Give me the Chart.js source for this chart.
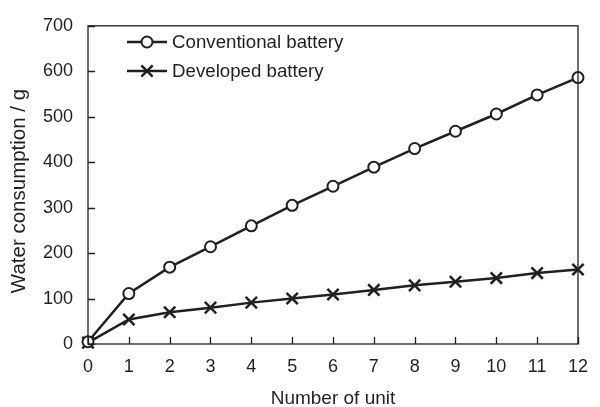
<!DOCTYPE html>
<html>
<head>
<meta charset="utf-8">
<script src="https://cdn.jsdelivr.net/npm/chart.js@4.4.1/dist/chart.umd.min.js"></script>
<style>
  html, body { margin: 0; padding: 0; background: #fff; }
  #wrap { width: 600px; height: 407px; }
</style>
</head>
<body>
<div id="wrap"><canvas id="waterChart" width="600" height="407"></canvas></div>
<script>
var units = [0, 1, 2, 3, 4, 5, 6, 7, 8, 9, 10, 11, 12];
var conventional = [5, 111, 169, 214, 260, 305, 347, 389, 430, 468, 506, 548, 586];
var developed = [3, 54, 70, 80, 91, 100, 109, 119, 129, 137, 145, 156, 164];
var seriesNames = ['Conventional battery', 'Developed battery'];
var xTitle = 'Number of unit';
var yTitle = 'Water consumption / g';

var ink = '#231f20';
var font = 'Liberation Sans, Arial, sans-serif';

function toPoints(vals) {
    return units.map(function(u, i) { return { x: u, y: vals[i] }; });
}

// box, inward ticks, axis titles and the legend
var decorations = {
    id: 'decorations',
    afterDraw: function(chart) {
        var ctx = chart.ctx, a = chart.chartArea;
        var xs = chart.scales.x, ys = chart.scales.y;
        ctx.save();
        ctx.strokeStyle = ink;
        ctx.lineWidth = 1.3;
        ctx.strokeRect(a.left, a.top, a.right - a.left, a.bottom - a.top);
        ctx.beginPath();
        xs.ticks.forEach(function(t) {
            var px = Math.round(xs.getPixelForValue(t.value)) + 0.5;
            ctx.moveTo(px, a.bottom);
            ctx.lineTo(px, a.bottom - 7);
        });
        ys.ticks.forEach(function(t) {
            var py = Math.round(ys.getPixelForValue(t.value)) + 0.5;
            ctx.moveTo(a.left, py);
            ctx.lineTo(a.left + 7, py);
        });
        ctx.stroke();

        ctx.fillStyle = ink;
        ctx.font = '19px ' + font;
        ctx.textAlign = 'center';
        ctx.textBaseline = 'middle';
        ctx.fillText(xTitle, (a.left + a.right) / 2, 399);
        ctx.save();
        ctx.translate(19, 191);
        ctx.rotate(-Math.PI / 2);
        ctx.font = '20.5px ' + font;
        ctx.fillText(yTitle, 0, 0);
        ctx.restore();

        // legend
        var rows = [42, 71];
        chart.data.datasets.forEach(function(ds, i) {
            var y = rows[i];
            ctx.lineWidth = 2.5;
            ctx.beginPath();
            ctx.moveTo(127, y);
            ctx.lineTo(167, y);
            ctx.stroke();
            ctx.lineWidth = ds.pointBorderWidth;
            ctx.fillStyle = '#fff';
            Chart.helpers.drawPoint(ctx, {
                pointStyle: ds.pointStyle,
                radius: ds.pointRadius,
                borderWidth: ds.pointBorderWidth
            }, 147, y);
            ctx.fillStyle = ink;
            ctx.font = '18.7px ' + font;
            ctx.textAlign = 'left';
            ctx.fillText(ds.label, 172, y + 1);
        });
        ctx.restore();
    }
};

var ctx = document.getElementById('waterChart').getContext('2d');
var waterChart = new Chart(ctx, {
    type: 'line',
    data: {
        datasets: [{
            label: seriesNames[0],
            data: toPoints(conventional),
            borderColor: ink,
            borderWidth: 2.5,
            pointStyle: 'circle',
            pointRadius: 5.5,
            pointBorderWidth: 2,
            pointBackgroundColor: '#fff',
            pointBorderColor: ink,
            clip: false
        }, {
            label: seriesNames[1],
            data: toPoints(developed),
            borderColor: ink,
            borderWidth: 2.5,
            pointStyle: 'crossRot',
            pointRadius: 8,
            pointBorderWidth: 2.5,
            pointBorderColor: ink,
            clip: false
        }]
    },
    options: {
        responsive: false,
        animation: false,
        layout: { padding: { top: 21, right: 12, left: 0, bottom: 0 } },
        plugins: {
            legend: { display: false },
            tooltip: { enabled: false }
        },
        scales: {
            x: {
                type: 'linear',
                min: 0,
                max: 12,
                ticks: { stepSize: 1, color: ink, padding: 12, font: { family: font, size: 18 } },
                grid: { drawOnChartArea: false, drawTicks: false },
                border: { display: false },
                afterFit: function(s) { s.height = 63; }
            },
            y: {
                min: 0,
                max: 700,
                ticks: { stepSize: 100, color: ink, padding: 15, font: { family: font, size: 18 } },
                grid: { drawOnChartArea: false, drawTicks: false },
                border: { display: false },
                afterFit: function(s) { s.width = 88; }
            }
        }
    },
    plugins: [decorations]
});
</script>
</body>
</html>
